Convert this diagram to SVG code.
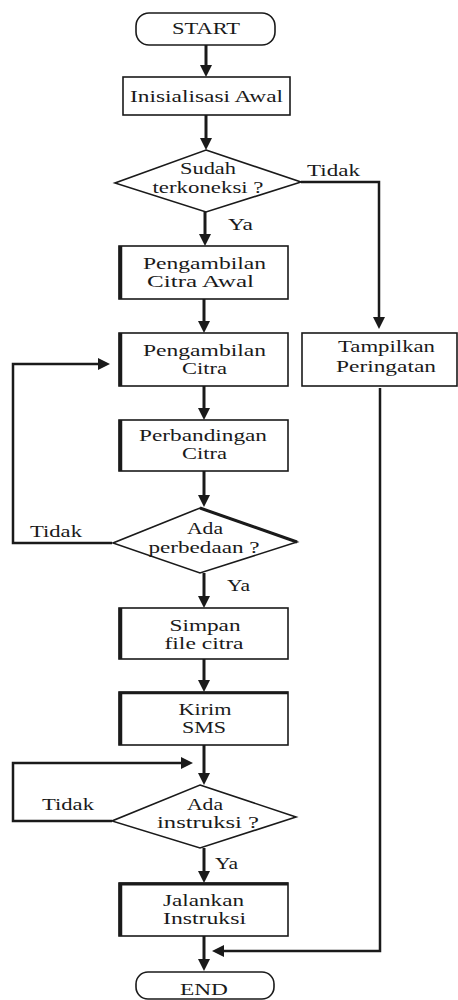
<svg xmlns="http://www.w3.org/2000/svg" width="458" height="1000" viewBox="0 0 458 1000">
<style>
  .box { fill: #fff; stroke: #1a1a1a; stroke-width: 1.6; }
  .thick { stroke: #1a1a1a; stroke-width: 3.5; fill: none; }
  .dia { fill: #fff; stroke: #1a1a1a; stroke-width: 1.6; }
  .t { font-family: "Liberation Serif", "Times New Roman", serif; font-size: 16.5px; fill: #1a1a1a; }
  .c { text-anchor: middle; }
  .main { fill: none; stroke: #1a1a1a; stroke-width: 3; marker-end: url(#ah); }
  .loop { fill: none; stroke: #1a1a1a; stroke-width: 2.5; marker-end: url(#ah); }
</style>
<defs>
  <marker id="ah" viewBox="0 0 12 12" refX="2" refY="6" markerWidth="12" markerHeight="12" markerUnits="userSpaceOnUse" orient="auto">
    <path d="M0,0 L12,6 L0,12 z" fill="#1a1a1a"/>
  </marker>
</defs>
<rect width="458" height="1000" fill="#fff"/>

<g id="connectors">
  <path class="main" d="M206,45 V67"/>
  <path class="main" d="M206,115 V140"/>
  <path class="main" d="M205,212 V236"/>
  <path class="main" d="M204,299 V323"/>
  <path class="main" d="M204,386 V410"/>
  <path class="main" d="M204,471 V497"/>
  <path class="main" d="M204,573 V598"/>
  <path class="main" d="M204,659 V682"/>
  <path class="main" d="M204,745 V775"/>
  <path class="main" d="M204,848 V873"/>
  <path class="main" d="M204,936 V961"/>
  <path class="loop" d="M301,182 H379 V319"/>
  <path class="loop" d="M380,388 V951 H222"/>
  <path class="loop" d="M112,543 H13 V364 H100"/>
  <path class="loop" d="M112,821 H13 V763 H183"/>
  <text class="t" x="307" y="175.5" textLength="53" lengthAdjust="spacingAndGlyphs">Tidak</text>
  <text class="t" x="228" y="230" textLength="25" lengthAdjust="spacingAndGlyphs">Ya</text>
  <text class="t" x="30" y="537" textLength="52" lengthAdjust="spacingAndGlyphs">Tidak</text>
  <text class="t" x="227" y="591" textLength="23" lengthAdjust="spacingAndGlyphs">Ya</text>
  <text class="t" x="42" y="810" textLength="52" lengthAdjust="spacingAndGlyphs">Tidak</text>
  <text class="t" x="215" y="869" textLength="23" lengthAdjust="spacingAndGlyphs">Ya</text>
</g>

<g id="start">
  <rect class="box" x="136" y="13" width="139" height="32" rx="13"/>
  <text class="t c" x="206" y="34" textLength="68" lengthAdjust="spacingAndGlyphs">START</text>
</g>

<g id="init">
  <rect class="box" x="123" y="77" width="167" height="38"/>
  <text class="t c" x="206.5" y="102" textLength="153" lengthAdjust="spacingAndGlyphs">Inisialisasi Awal</text>
</g>

<g id="d-koneksi">
  <polygon class="dia" points="206,150 301,182 206,212 115,183"/>
  <text class="t c" x="208" y="174" textLength="56" lengthAdjust="spacingAndGlyphs">Sudah</text>
  <text class="t c" x="208" y="192.5" textLength="111" lengthAdjust="spacingAndGlyphs">terkoneksi ?</text>
</g>

<g id="citra-awal">
  <rect class="box" x="119" y="246" width="169" height="53"/>
  <line class="thick" x1="120.5" y1="246" x2="120.5" y2="299"/>
  <text class="t c" x="204.5" y="268.5" textLength="123" lengthAdjust="spacingAndGlyphs">Pengambilan</text>
  <text class="t c" x="200.5" y="287" textLength="107" lengthAdjust="spacingAndGlyphs">Citra Awal</text>
</g>

<g id="citra">
  <rect class="box" x="119" y="333" width="169" height="53"/>
  <line class="thick" x1="120.5" y1="333" x2="120.5" y2="386"/>
  <text class="t c" x="204.5" y="356" textLength="123" lengthAdjust="spacingAndGlyphs">Pengambilan</text>
  <text class="t c" x="204.5" y="374" textLength="45" lengthAdjust="spacingAndGlyphs">Citra</text>
</g>

<g id="peringatan">
  <rect class="box" x="302" y="333" width="155" height="53"/>
  <text class="t c" x="386.5" y="352" textLength="97" lengthAdjust="spacingAndGlyphs">Tampilkan</text>
  <text class="t c" x="386" y="372" textLength="100" lengthAdjust="spacingAndGlyphs">Peringatan</text>
</g>

<g id="perbandingan">
  <rect class="box" x="119" y="420" width="169" height="51"/>
  <line class="thick" x1="120.5" y1="420" x2="120.5" y2="471"/>
  <text class="t c" x="203" y="441" textLength="128" lengthAdjust="spacingAndGlyphs">Perbandingan</text>
  <text class="t c" x="204.5" y="459" textLength="45" lengthAdjust="spacingAndGlyphs">Citra</text>
</g>

<g id="d-perbedaan">
  <polygon class="dia" points="200,508 297,542 200,573 113,543"/>
  <line x1="200" y1="508" x2="297" y2="542" stroke="#1a1a1a" stroke-width="3"/>
  <text class="t c" x="205" y="534" textLength="36" lengthAdjust="spacingAndGlyphs">Ada</text>
  <text class="t c" x="204" y="553" textLength="111" lengthAdjust="spacingAndGlyphs">perbedaan ?</text>
</g>

<g id="simpan">
  <rect class="box" x="119" y="608" width="169" height="51"/>
  <line class="thick" x1="120.5" y1="608" x2="120.5" y2="659"/>
  <text class="t c" x="205" y="630.5" textLength="71" lengthAdjust="spacingAndGlyphs">Simpan</text>
  <text class="t c" x="204" y="648.5" textLength="79" lengthAdjust="spacingAndGlyphs">file citra</text>
</g>

<g id="kirim">
  <rect class="box" x="119" y="692" width="169" height="53"/>
  <line class="thick" x1="120.5" y1="692" x2="120.5" y2="745"/>
  <line x1="119" y1="693" x2="288" y2="693" stroke="#1a1a1a" stroke-width="2.6"/>
  <text class="t c" x="205" y="715" textLength="53" lengthAdjust="spacingAndGlyphs">Kirim</text>
  <text class="t c" x="204" y="733" textLength="44" lengthAdjust="spacingAndGlyphs">SMS</text>
</g>

<g id="d-instruksi">
  <polygon class="dia" points="200,785 296,817 200,848 112,821"/>
  <text class="t c" x="205" y="810" textLength="36" lengthAdjust="spacingAndGlyphs">Ada</text>
  <text class="t c" x="208" y="828" textLength="102" lengthAdjust="spacingAndGlyphs">instruksi ?</text>
</g>

<g id="jalankan">
  <rect class="box" x="119" y="883" width="169" height="53"/>
  <line class="thick" x1="120.5" y1="883" x2="120.5" y2="936"/>
  <line x1="119" y1="884" x2="288" y2="884" stroke="#1a1a1a" stroke-width="2.8"/>
  <text class="t c" x="203.5" y="906" textLength="81" lengthAdjust="spacingAndGlyphs">Jalankan</text>
  <text class="t c" x="204.5" y="924" textLength="83" lengthAdjust="spacingAndGlyphs">Instruksi</text>
</g>

<g id="end">
  <rect class="box" x="136" y="972" width="138" height="27" rx="12"/>
  <text class="t c" x="204" y="995" textLength="48" lengthAdjust="spacingAndGlyphs">END</text>
</g>
</svg>
